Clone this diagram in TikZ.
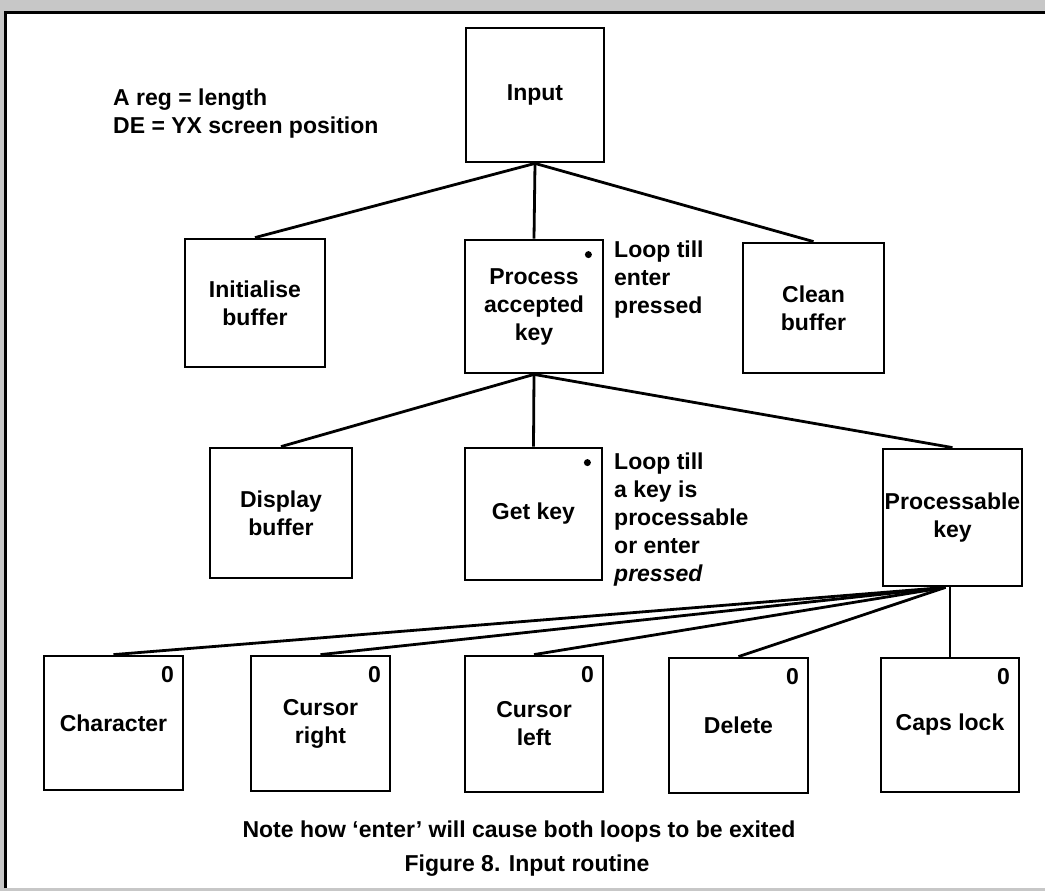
\documentclass[tikz,border=0pt]{standalone}
\usepackage{fontspec}
\setmainfont{Liberation Sans}
\begin{document}
\begin{tikzpicture}[x=1pt,y=-1pt,
  every node/.style={font=\fontsize{23}{28}\selectfont\bfseries},
  blk/.style={draw=black,line width=2.8pt,inner sep=0pt,align=center,minimum width=139pt,minimum height=132pt},
  conn/.style={line width=2.8pt,black},
  dotmark/.style={circle,fill=black,inner sep=0pt,minimum size=7pt},
  note/.style={align=left,anchor=west,inner sep=0pt}]
\useasboundingbox (0,0) rectangle (1045,891);
\fill[black!22] (0,0) rectangle (1045,891);
\fill[white] (5,13) rectangle (1045,888);
\draw[line width=3pt] (5,888) -- (5,13) -- (1045,13);
% level 0
\node[blk,minimum width=138pt,minimum height=134pt] (inp) at (535,95) {Input};
% level 1
\node[blk,minimum width=140pt,minimum height=128pt] (init) at (255,303) {Initialise\\buffer};
\node[blk,minimum width=138pt,minimum height=133pt] (proc) at (534,306.5) {Process\\accepted\\key};
\node[blk,minimum width=141pt,minimum height=130pt] (clean) at (813.5,308) {Clean\\buffer};
% level 2
\node[blk,minimum width=142pt,minimum height=130pt] (disp) at (281,513) {Display\\buffer};
\node[blk,minimum width=137pt,minimum height=132pt] (getk) at (533.5,514) {Get key};
\node[blk,minimum width=139pt,minimum height=137pt] (pkey) at (952.5,517.5) {Processable\\key};
% level 3
\node[blk,minimum height=134pt] (chr) at (113.5,723) {Character};
\node[blk,minimum height=135pt] (crt) at (320.5,723.5) {Cursor\\right};
\node[blk,minimum width=138pt,minimum height=136pt] (clf) at (534,724) {Cursor\\left};
\node[blk,minimum height=135pt] (del) at (738.5,725.5) {Delete};
\node[blk,minimum width=138pt,minimum height=134pt] (caps) at (950,725) {Caps lock};
% connectors
\draw[conn] (inp.south) -- (init.north);
\draw[conn] (inp.south) -- (proc.north);
\draw[conn] (inp.south) -- (clean.north);
\draw[conn] (proc.south) -- (disp.north);
\draw[conn] (proc.south) -- (getk.north);
\draw[conn] (proc.south) -- (pkey.north);
\coordinate (fan) at ([xshift=-7pt]pkey.south);
\draw[conn] (fan) -- (chr.north);
\draw[conn] (fan) -- (crt.north);
\draw[conn] (fan) -- (clf.north);
\draw[conn] (fan) -- (del.north);
\draw[conn] (caps.north |- pkey.south) -- (caps.north);
% markers
\node[dotmark] (d1) at ([shift={(-16,16)}]proc.north east) {};
\node[dotmark] (d2) at ([shift={(-16,16)}]getk.north east) {};
\node[inner sep=0pt] (z1) at ([shift={(-17,20)}]chr.north east) {0};
\node[inner sep=0pt] (z2) at ([shift={(-17,20)}]crt.north east) {0};
\node[inner sep=0pt] (z3) at ([shift={(-17,20)}]clf.north east) {0};
\node[inner sep=0pt] (z4) at ([shift={(-17,20)}]del.north east) {0};
\node[inner sep=0pt] (z5) at ([shift={(-17,20)}]caps.north east) {0};
% notes
\node[note] (n0) at (113,114) {A reg = length\\DE = YX screen position};
\node[note] (n1) at (614,280) {Loop till\\enter\\pressed};
\node[note] (n2) at (614,520) {Loop till\\a key is\\processable\\or enter\\\textit{pressed}};
\node[inner sep=0pt] (cap1) at (519,832) {Note how `enter' will cause both loops to be exited};
\node[inner sep=0pt] (cap2) at (527,866) {Figure 8. Input routine};
\end{tikzpicture}
\end{document}
